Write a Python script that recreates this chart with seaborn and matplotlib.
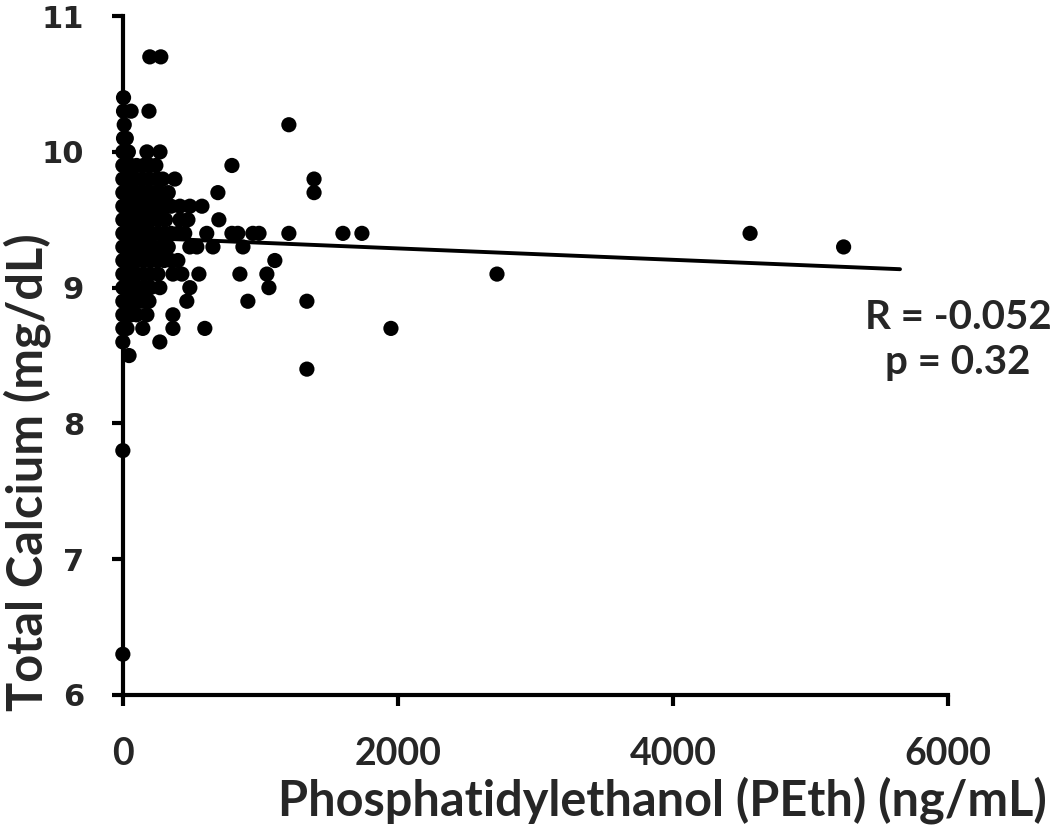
import numpy as np
import pandas as pd
import matplotlib
matplotlib.use("Agg")
import matplotlib.pyplot as plt
import seaborn as sns

# ---- data ----
peth = [
    196, 276,
    5,
    5, 60, 190,
    10, 1207,
    5, 25,
    0, 40, 175, 270,
    0, 20, 60, 100, 150, 200, 240, 793,
    0, 20, 50, 90, 140, 190, 250, 290, 378, 1390,
    0, 15, 45, 80, 120, 170, 220, 270, 330, 691, 1390,
    0, 10, 35, 70, 110, 150, 200, 250, 300, 350, 415, 487, 575,
    0, 10, 30, 60, 90, 130, 170, 210, 260, 310, 415, 473, 698,
    0, 10, 25, 50, 80, 120, 160, 200, 250, 300, 350, 400, 450, 610, 793, 836, 945, 990, 1207, 1600, 1738, 4560,
    0, 10, 30, 55, 90, 130, 170, 220, 280, 330, 487, 538, 655, 873, 5240,
    0, 15, 35, 60, 100, 150, 200, 250, 300, 350, 400, 1105,
    0, 10, 30, 60, 100, 150, 200, 255, 364, 429, 553, 851, 1047, 2720,
    0, 15, 40, 70, 110, 160, 200, 269, 487, 1062,
    0, 20, 50, 90, 140, 190, 465, 909, 1338,
    0, 25, 60, 100, 175, 364,
    0, 30, 145, 364, 596, 1949,
    0, 269,
    45,
    1338,
    0,
    0,
]
calcium = (
    [10.7] * 2 + [10.4] * 1 + [10.3] * 3 + [10.2] * 2 + [10.1] * 2 + [10.0] * 4
    + [9.9] * 8 + [9.8] * 10 + [9.7] * 11 + [9.6] * 13 + [9.5] * 13 + [9.4] * 22
    + [9.3] * 15 + [9.2] * 12 + [9.1] * 14 + [9.0] * 10 + [8.9] * 9 + [8.8] * 6
    + [8.7] * 6 + [8.6] * 2 + [8.5] * 1 + [8.4] * 1 + [7.8] * 1 + [6.3] * 1
)
trend_x = [0, 5650]
trend_y = [9.373, 9.136]
x_ticks = [0, 2000, 4000, 6000]
y_ticks = [6, 7, 8, 9, 10, 11]
stats_text = "R = -0.052\np = 0.32"

df = pd.DataFrame({"PEth": peth, "Calcium": calcium})
trend = pd.DataFrame({"PEth": trend_x, "Calcium": trend_y})

sns.set_theme(style="ticks")
plt.rcParams["font.family"] = ["Lato", "DejaVu Sans"]

fig = plt.figure(figsize=(10.5, 8.36), dpi=100)
ax = fig.add_axes([0.117, 0.1687, 0.786, 0.812])

sns.scatterplot(data=df, x="PEth", y="Calcium", ax=ax, color="black",
                s=120, edgecolor="none", linewidth=0, zorder=3, clip_on=False)
sns.lineplot(data=trend, x="PEth", y="Calcium", ax=ax, color="black",
             linewidth=2.8, zorder=2)

ax.set_xlim(0, 6000)
ax.set_ylim(6, 11)
ax.set_xticks(x_ticks)
ax.set_yticks(y_ticks)
ax.set_xticklabels([str(v) for v in x_ticks], fontsize=27, fontweight="bold",
                   family=["Lato", "DejaVu Sans"])
ax.set_yticklabels([str(v) for v in y_ticks], fontsize=22, fontweight="bold",
                   family=["DejaVu Sans"])
for s in ["top", "right"]:
    ax.spines[s].set_visible(False)
for s in ["left", "bottom"]:
    ax.spines[s].set_linewidth(3)
    ax.spines[s].set_color("black")
ax.tick_params(axis="both", direction="out", width=3, length=8, color="black")
ax.tick_params(axis="x", pad=22)
ax.tick_params(axis="y", pad=20)

ax.set_xlabel("Phosphatidylethanol (PEth) (ng/mL)", fontsize=35, fontweight="bold")
ax.xaxis.set_label_coords(1.12, -0.178, transform=ax.transAxes)
ax.xaxis.label.set_ha("right")
ax.xaxis.label.set_va("baseline")
ax.set_ylabel("Total Calcium (mg/dL)", fontsize=35, fontweight="bold")
ax.yaxis.set_label_coords(-0.116, 0.328)
ax.yaxis.label.set_va("center")

ax.text(6073, 8.614, stats_text, fontsize=29, fontweight="bold",
        ha="center", va="center", linespacing=1.25)

fig.savefig("out.png", dpi=100, facecolor="white")
